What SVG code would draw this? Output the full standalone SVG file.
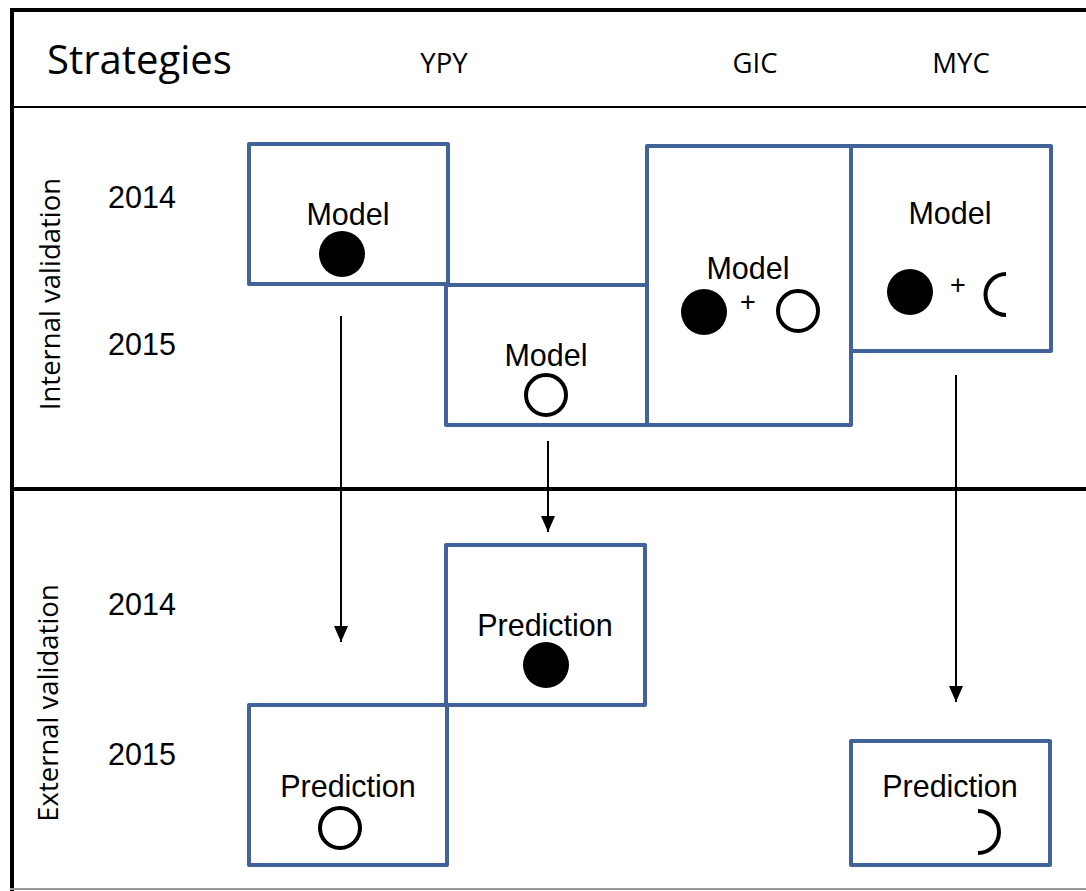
<svg xmlns="http://www.w3.org/2000/svg" width="1086" height="891" viewBox="0 0 1086 891">
<defs>
<style>
.box{fill:none;stroke:#41639a;stroke-width:4;stroke-linejoin:round}
.lbl{font-family:"Liberation Sans",Arial,sans-serif;font-size:30.5px;fill:#000;text-anchor:middle}
.yr{font-family:"Liberation Sans",Arial,sans-serif;font-size:30.5px;fill:#000}
.hdr{font-family:"Open Sans","Liberation Sans",sans-serif;fill:#000}
.fill{fill:#000}
.open{fill:none;stroke:#000;stroke-width:4}
.conn{stroke:#000;stroke-width:2;fill:none}
.plus{font-family:"Liberation Sans",Arial,sans-serif;font-size:27px;fill:#000;text-anchor:middle}
</style>
<marker id="ah2" markerWidth="16" markerHeight="14" refX="16" refY="7" orient="auto" markerUnits="userSpaceOnUse" viewBox="0 0 16 14">
<path d="M0,0 L16,7 L0,14 z" fill="#000"/>
</marker>
</defs>
<rect width="1086" height="891" fill="#fff"/>
<g id="frame">
<line x1="12" y1="9" x2="12" y2="891" stroke="#000" stroke-width="4"/>
<line x1="10" y1="10" x2="1086" y2="10" stroke="#000" stroke-width="4"/>
<line x1="10" y1="107" x2="1086" y2="107" stroke="#000" stroke-width="2"/>
<line x1="10" y1="489" x2="1086" y2="489" stroke="#000" stroke-width="4"/>
<line x1="10" y1="889" x2="1086" y2="889" stroke="#999" stroke-width="2"/>
</g>
<g id="header">
<text class="hdr" x="47" y="74" font-size="40">Strategies</text>
<text class="hdr" x="444" y="73" font-size="27.5" text-anchor="middle">YPY</text>
<text class="hdr" x="755" y="73" font-size="27.5" text-anchor="middle">GIC</text>
<text class="hdr" x="961" y="73" font-size="27.5" text-anchor="middle">MYC</text>
</g>
<g id="rowlabels">
<text class="hdr" font-size="27.5" text-anchor="middle" transform="translate(60,294) rotate(-90)">Internal validation</text>
<text class="hdr" font-size="27.5" text-anchor="middle" transform="translate(58,703) rotate(-90)">External validation</text>
<text class="yr" x="108" y="208">2014</text>
<text class="yr" x="108" y="355">2015</text>
<text class="yr" x="108" y="615">2014</text>
<text class="yr" x="108" y="765">2015</text>
</g>
<g id="connectors">
<line class="conn" x1="341" y1="316" x2="341" y2="642" marker-end="url(#ah2)"/>
<line class="conn" x1="548" y1="441" x2="548" y2="532" marker-end="url(#ah2)"/>
<line class="conn" x1="956" y1="375" x2="956" y2="702" marker-end="url(#ah2)"/>
</g>
<g id="ypy-model-2014">
<rect class="box" x="249" y="144" width="199" height="140"/>
<text class="lbl" x="348" y="225">Model</text>
<circle class="fill" cx="342" cy="254" r="23"/>
</g>
<g id="ypy-model-2015">
<rect class="box" x="446" y="285" width="201" height="140"/>
<text class="lbl" x="546" y="366">Model</text>
<circle class="open" cx="546" cy="395" r="20"/>
</g>
<g id="gic-model">
<rect class="box" x="647" y="146" width="204" height="279"/>
<text class="lbl" x="748" y="279">Model</text>
<circle class="fill" cx="704" cy="312" r="23"/>
<text class="plus" x="748" y="311">+</text>
<circle class="open" cx="798" cy="311" r="20"/>
</g>
<g id="myc-model">
<rect class="box" x="851" y="146" width="200" height="205"/>
<text class="lbl" x="950" y="224">Model</text>
<circle class="fill" cx="910" cy="292" r="23"/>
<text class="plus" x="958" y="294">+</text>
<path class="open" d="M1006,274 A20.5,20.5 0 0 0 1006,315"/>
</g>
<g id="ypy-pred-2014">
<rect class="box" x="446" y="545" width="199" height="160"/>
<text class="lbl" x="545" y="636">Prediction</text>
<circle class="fill" cx="546" cy="665" r="23"/>
</g>
<g id="ypy-pred-2015">
<rect class="box" x="249" y="705" width="198" height="160"/>
<text class="lbl" x="348" y="797">Prediction</text>
<circle class="open" cx="340" cy="828" r="20"/>
</g>
<g id="myc-pred">
<rect class="box" x="851" y="741" width="199" height="124"/>
<text class="lbl" x="950" y="797">Prediction</text>
<path class="open" d="M978,811 A21,21 0 0 1 978,853"/>
</g>
</svg>
